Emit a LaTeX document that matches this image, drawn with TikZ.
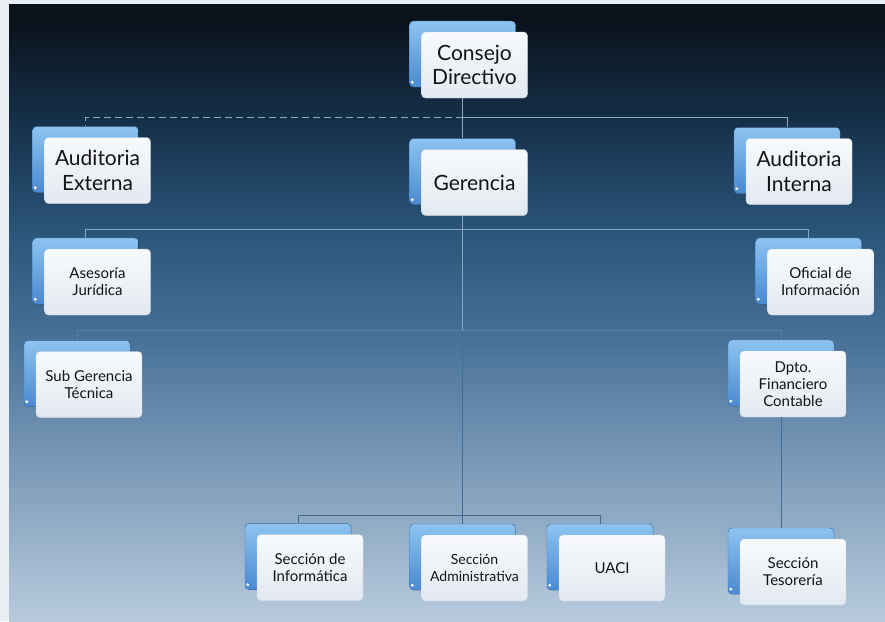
\documentclass[tikz,border=0pt]{standalone}
\usepackage{fontspec}
\setmainfont{Lato}
\usetikzlibrary{positioning,shadows}

\definecolor{frame}{HTML}{E8EEF1}
\definecolor{bgA}{HTML}{B8CBDD}
\definecolor{bgB}{HTML}{A9BFD4}
\definecolor{bgC}{HTML}{7494B4}
\definecolor{bgD}{HTML}{466F96}
\definecolor{bgE}{HTML}{2B5579}
\definecolor{bgF}{HTML}{15304A}
\definecolor{bgG}{HTML}{0A131C}
\definecolor{bluetop}{HTML}{8CC3F0}
\definecolor{bluebot}{HTML}{4B8AD2}
\definecolor{blueedge}{HTML}{3F79BD}
\definecolor{paper}{HTML}{F8FAFC}
\definecolor{papergray}{HTML}{E2E9F0}
\definecolor{paperedge}{HTML}{C8D4E0}
\definecolor{ink}{HTML}{141414}
\definecolor{linetop}{HTML}{8FA8C0}
\definecolor{linemid}{HTML}{86A6C4}
\definecolor{linefaint}{HTML}{5A82A8}
\definecolor{linelow}{HTML}{416C96}

\pgfdeclareverticalshading{panel}{100bp}{color(0bp)=(bgA); color(25bp)=(bgA); color(28bp)=(bgB); color(39bp)=(bgC); color(48.5bp)=(bgD); color(56.5bp)=(bgE); color(65.5bp)=(bgF); color(73.5bp)=(bgG); color(100bp)=(bgG)}

\begin{document}
\begin{tikzpicture}[x=1pt, y=-1pt,
unit/.style={rectangle, rounded corners=4pt, draw=paperedge, top color=paper, bottom color=papergray, text=ink, align=center, minimum width=106pt, minimum height=66pt, inner sep=2pt, copy shadow={shadow xshift=-12pt, shadow yshift=11pt, top color=bluetop, bottom color=bluebot, draw=blueedge}},
big/.style={unit, font=\fontsize{21}{24.5}\selectfont},
small/.style={unit, font=\fontsize{15}{17}\selectfont},
link/.style={line width=0.9pt, draw=#1},
link/.default=linetop
]

% fondo
\fill[frame] (0,0) rectangle (885,621);
\shade[shading=panel] (9,4) rectangle (885,621);
\useasboundingbox (0,0) rectangle (885,621);

% cajas
\node[big](cd) at (474.5,65) {Consejo\\Directivo};
\node[big](ge) at (474.5,182.5) {Gerencia};
\node[big](ae) at (97.5,170.5) {Auditoria\\Externa};
\node[big](ai) at (799,171.5) {Auditoria\\Interna};

\node[small](aj) at (97.5,282) {Asesoría\\Jurídica};
\node[small](oi) at (820.5,282) {Oficial de\\Información};
\node[small](sg) at (89,384.5) {Sub Gerencia\\Técnica};
\node[small](dp) at (793,384) {Dpto.\\Financiero\\Contable};

\node[small](si) at (310,567.5) {Sección de\\Informática};
\node[small, font=\fontsize{14}{17}\selectfont](sa) at (474.5,568) {Sección\\Administrativa};
\node[small](ua) at (612,568) {UACI};
\node[small](st) at (793,572) {Sección\\Tesorería};

% puntos blancos
\foreach \n in {cd,ge,ae,ai,aj,oi,sg,dp,si,sa,ua,st}
  \fill[white] ([shift={(-9pt,16pt)}]\n.south west) circle (1.6pt);

% lineas
\draw[link] ([xshift=-12pt]cd.south) -- ([shift={(-12pt,11pt)}]ge.north);
\draw[link] ([xshift=-12pt]cd.south) ++(0,-19pt) -| ([shift={(-12pt,11pt)}]ai.north);
\draw[link, dash pattern=on 7pt off 4pt] ([xshift=-12pt]cd.south) ++(0,-19pt) -| ([shift={(-12pt,11pt)}]ae.north);

\draw[link=linemid] ([xshift=-12pt]ge.south) -- ++(0,-115pt);
\draw[link=linemid] ([xshift=-12pt]ge.south) ++(0,-14pt) -| ([shift={(-12pt,11pt)}]aj.north);
\draw[link=linemid] ([xshift=-12pt]ge.south) ++(0,-14pt) -| ([shift={(-12pt,11pt)}]oi.north);

\draw[link=linefaint] ([xshift=-12pt]ge.south) ++(0,-115pt) -| ([shift={(-12pt,11pt)}]sg.north);
\draw[link=linefaint] ([xshift=-12pt]ge.south) ++(0,-115pt) -| ([shift={(-12pt,11pt)}]dp.north);

\draw[link=linelow] ([xshift=-12pt]ge.south) ++(0,-115pt) -- ([shift={(-12pt,11pt)}]sa.north);
\draw[link=linelow] ([xshift=-12pt]ge.south) ++(0,-300pt) -| ([shift={(-12pt,11pt)}]si.north);
\draw[link=linelow] ([xshift=-12pt]ge.south) ++(0,-300pt) -| ([shift={(-12pt,11pt)}]ua.north);
\draw[link=linelow] ([xshift=-12pt]dp.south) -- ([shift={(-12pt,11pt)}]st.north);
\end{tikzpicture}
\end{document}
